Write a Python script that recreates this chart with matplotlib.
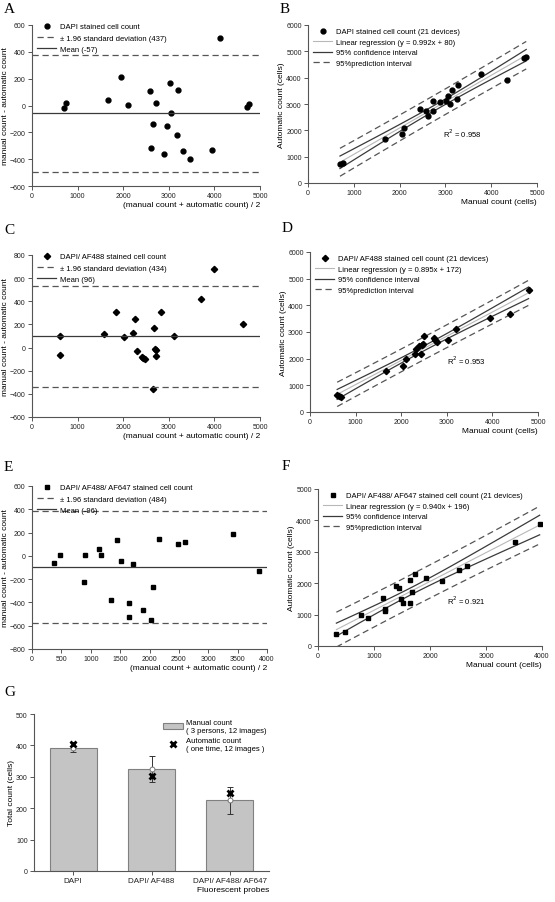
import numpy as np
import matplotlib
matplotlib.use("Agg")
import matplotlib.pyplot as plt
from matplotlib.lines import Line2D
from matplotlib.patches import Patch

plt.rcParams['font.family'] = ['Liberation Sans', 'DejaVu Sans']

# --- A: Bland-Altman, DAPI ---
a_x = [695, 740, 1670, 1950, 2095, 2585, 2715, 2643, 2606, 2899, 2958,
       3023, 3053, 3170, 3206, 3316, 3470, 3953, 4114, 4722, 4766]
a_y = [-20, 15, 40, 210, 5, 105, 22, -135, -319, -361, -150,
       168, -53, -220, 116, -339, -401, -332, 500, -9, 14]
a_mean, a_loa = -57, 437

# --- B: regression, DAPI ---
b_man = [698, 757, 1691, 2044, 2088, 2441, 2574, 2625, 2721, 2721, 2882,
         3015, 3059, 3103, 3147, 3250, 3272, 3779, 4346, 4706, 4765]
b_auto = [736, 749, 1662, 1865, 2107, 2792, 2741, 2551, 3122, 2741, 3058,
          3122, 3312, 2982, 3528, 3185, 3706, 4150, 3909, 4746, 4784]

# --- C: Bland-Altman, DAPI/AF488 ---
c_x = [608, 622, 1589, 1852, 2020, 2204, 2262, 2299, 2408, 2438, 2482,
       2672, 2694, 2730, 2730, 2657, 2833, 3119, 3697, 3990, 4634]
c_y = [100, -60, 120, 310, 95, 130, 245, -30, -78, -86, -101,
       170, -15, -25, -70, -355, 305, 100, 420, 680, 205]
c_mean, c_loa = 96, 434

# --- D: regression, DAPI/AF488 ---
d_man = [596, 633, 669, 1673, 2036, 2095, 2305, 2320, 2393, 2429, 2451,
         2473, 2509, 2727, 2742, 2793, 3018, 3207, 3949, 4385, 4793]
d_auto = [650, 600, 550, 1538, 1725, 1988, 2163, 2350, 2463, 2163, 2513,
          2563, 2863, 2775, 2713, 2625, 2713, 3113, 3538, 3688, 4588]

# --- E: Bland-Altman, DAPI/AF488/AF647 ---
e_x = [375, 472, 904, 893, 1143, 1177, 1348, 1450, 1507, 1650, 1650,
       1712, 1889, 2019, 2059, 2162, 2480, 2611, 3413, 3857]
e_y = [-63, 11, 6, -226, 63, 9, -377, 140, -46, -403, -523,
       -69, -469, -551, -269, 149, 106, 123, 189, -131]
e_mean, e_loa = -96, 484

# --- F: regression, DAPI/AF488/AF647 ---
f_man = [328, 478, 776, 901, 1152, 1188, 1188, 1385, 1451, 1481, 1516,
         1642, 1642, 1672, 1731, 1922, 2221, 2525, 2669, 3510, 3958]
f_auto = [383, 447, 1000, 883, 1521, 1181, 1117, 1904, 1840, 1511, 1372,
          1372, 2117, 1723, 2287, 2170, 2074, 2415, 2543, 3309, 3895]

# --- G: totals ---
probes = ['DAPI', 'DAPI/ AF488', 'DAPI/ AF488/ AF647']
manual_mean = [393, 325, 225]
manual_err = [15, 41, 43]
auto_count = [405, 302, 248]

LINE = '#3a3a3a'
REG = '#b8b8b8'
FS_TICK = 5
FS_LAB = 6
FS_LEG = 5.5


def style_axes(ax):
    for s in ['top', 'right']:
        ax.spines[s].set_visible(False)
    for s in ['left', 'bottom']:
        ax.spines[s].set_color('#555555')
        ax.spines[s].set_linewidth(0.8)
    ax.tick_params(labelsize=FS_TICK, length=3, width=0.7, colors='#555555',
                   labelcolor='#222222', direction='out', pad=1.5)


def bland_altman(ax, x, y, mean, loa, marker, ms, name, xmax, xstep, ymin, ymax):
    ax.plot(x, y, linestyle='none', marker=marker, color='black', ms=ms)
    ax.axhline(mean + loa, color='#555555', lw=0.9, ls=(0, (5, 3)))
    ax.axhline(mean - loa, color='#555555', lw=0.9, ls=(0, (5, 3)))
    ax.axhline(mean, color=LINE, lw=0.9)
    ax.set_xlim(0, xmax)
    ax.set_ylim(ymin, ymax)
    ax.set_xticks(np.arange(0, xmax + 1, xstep))
    ax.set_yticks(np.arange(ymin, ymax + 1, 200))
    ax.set_xlabel('(manual count + automatic count) / 2', fontsize=FS_LAB, loc='right', labelpad=1)
    ax.set_ylabel('manual count - automatic count', fontsize=FS_LAB, labelpad=0.5)
    sign = '-' if mean < 0 else ''
    handles = [
        Line2D([], [], ls='none', marker=marker, color='black', ms=ms),
        Line2D([], [], color='#555555', lw=0.9, ls=(0, (5, 3))),
        Line2D([], [], color=LINE, lw=0.9),
    ]
    labels = [name, '\u00b1 1.96 standard deviation (%d)' % loa,
              'Mean (%s%d)' % (sign, abs(mean))]
    ax.legend(handles, labels, loc='upper left', bbox_to_anchor=(0.0, 1.04), frameon=False,
              fontsize=FS_LEG, handlelength=2.6, handletextpad=0.5, labelspacing=0.5,
              borderaxespad=0.2)
    style_axes(ax)


def regression(ax, man, auto, marker, ms, name, eq, r2, r2_pos, xmax, ymax):
    x = np.array(man, dtype=float)
    y = np.array(auto, dtype=float)
    n = len(x)
    slope, icpt = np.polyfit(x, y, 1)
    resid = y - (icpt + slope * x)
    s = np.sqrt(np.sum(resid ** 2) / (n - 2))
    xm = x.mean()
    sxx = np.sum((x - xm) ** 2)
    t = 2.093
    xs = np.linspace(x.min(), x.max(), 100)
    fit = icpt + slope * xs
    ci = t * s * np.sqrt(1 / n + (xs - xm) ** 2 / sxx)
    pi = t * s * np.sqrt(1 + 1 / n + (xs - xm) ** 2 / sxx)
    ax.plot(xs, fit, color=REG, lw=0.8)
    ax.plot(xs, fit + ci, color=LINE, lw=0.9)
    ax.plot(xs, fit - ci, color=LINE, lw=0.9)
    ax.plot(xs, fit + pi, color='#555555', lw=0.9, ls=(0, (5, 3)))
    ax.plot(xs, fit - pi, color='#555555', lw=0.9, ls=(0, (5, 3)))
    ax.plot(x, y, linestyle='none', marker=marker, color='black', ms=ms)
    ax.set_xlim(0, xmax)
    ax.set_ylim(0, ymax)
    ax.set_xticks(np.arange(0, xmax + 1, 1000))
    ax.set_yticks(np.arange(0, ymax + 1, 1000))
    ax.set_xlabel('Manual count (cells)', fontsize=FS_LAB, loc='right', labelpad=1)
    ax.set_ylabel('Automatic count (cells)', fontsize=FS_LAB, labelpad=0.5)
    ax.text(r2_pos[0], r2_pos[1], 'R$^2$ = %s' % r2, fontsize=FS_LEG, va='center')
    handles = [
        Line2D([], [], ls='none', marker=marker, color='black', ms=ms),
        Line2D([], [], color=REG, lw=0.8),
        Line2D([], [], color=LINE, lw=0.9),
        Line2D([], [], color='#555555', lw=0.9, ls=(0, (5, 3))),
    ]
    labels = [name + ' (21 devices)', 'Linear regression (%s)' % eq,
              '95% confidence interval', '95%prediction interval']
    ax.legend(handles, labels, loc='upper left', bbox_to_anchor=(0.0, 1.01), frameon=False,
              fontsize=FS_LEG, handlelength=2.6, handletextpad=0.5, labelspacing=0.42,
              borderaxespad=0.2)
    style_axes(ax)


fig = plt.figure(figsize=(5.55, 9.03), dpi=100)
W, H = 555.0, 903.0


def add_ax(l, r, t, b):
    return fig.add_axes([l / W, 1 - b / H, (r - l) / W, (b - t) / H])


axA = add_ax(32, 260, 26, 187)
axB = add_ax(308, 537, 26, 184)
axC = add_ax(32, 260, 256, 418)
axD = add_ax(310, 538, 253, 413)
axE = add_ax(32, 267, 487, 650)
axF = add_ax(318, 542, 490, 647)
axG = add_ax(34, 269, 715, 872)

bland_altman(axA, a_x, a_y, a_mean, a_loa, 'o', 3.5, 'DAPI stained cell count',
             5000, 1000, -600, 600)
bland_altman(axC, c_x, c_y, c_mean, c_loa, 'D', 3.2, 'DAPI/ AF488 stained cell count',
             5000, 1000, -600, 800)
bland_altman(axE, e_x, e_y, e_mean, e_loa, 's', 3.3, 'DAPI/ AF488/ AF647 stained cell count',
             4000, 500, -800, 600)

regression(axB, b_man, b_auto, 'o', 3.5, 'DAPI stained cell count',
           'y = 0.992x + 80', '0.958', (2950, 1920), 5000, 6000)
regression(axD, d_man, d_auto, 'D', 3.2, 'DAPI/ AF488 stained cell count',
           'y = 0.895x + 172', '0.953', (3000, 1940), 5000, 6000)
regression(axF, f_man, f_auto, 's', 3.3, 'DAPI/ AF488/ AF647 stained cell count',
           'y = 0.940x + 196', '0.921', (2300, 1460), 4000, 5000)

# G: bar chart
pos = np.arange(len(probes))
axG.bar(pos, manual_mean, width=0.6, color='#c4c4c4', edgecolor='#808080', linewidth=0.8, zorder=2)
axG.errorbar(pos, manual_mean, yerr=manual_err, fmt='none', ecolor='#333333',
             elinewidth=0.7, capsize=2.5, capthick=0.7, zorder=3)
axG.plot(pos, manual_mean, ls='none', marker='o', ms=3.5, mfc='white', mec='#777777',
         mew=0.7, zorder=4)
axG.plot(pos, auto_count, ls='none', marker='x', ms=5, mew=2, color='black', zorder=5)
axG.set_xlim(-0.5, 2.5)
axG.set_ylim(0, 500)
axG.set_xticks(pos)
axG.set_xticklabels(probes)
axG.set_yticks(np.arange(0, 501, 100))
axG.set_xlabel('Fluorescent probes', fontsize=FS_LAB, loc='right', labelpad=1)
axG.set_ylabel('Total count (cells)', fontsize=FS_LAB, labelpad=0.5)
style_axes(axG)
axG.tick_params(axis='x', labelsize=5.8)
g_handles = [Patch(facecolor='#c4c4c4', edgecolor='#808080', linewidth=0.8),
             Line2D([], [], ls='none', marker='x', ms=5, mew=2, color='black')]
g_labels = ['Manual count\n( 3 persons, 12 images)', 'Automatic count\n( one time, 12 images )']
axG.legend(g_handles, g_labels, loc='upper right', bbox_to_anchor=(1.01, 1.0), frameon=False,
           fontsize=FS_LEG, handlelength=2.6, handletextpad=0.4, labelspacing=0.4,
           borderaxespad=0.2)

# panel letters
for letter, xp, yp in [('A', 4, 3), ('B', 280, 3), ('C', 4, 224), ('D', 282, 222),
                       ('E', 4, 461), ('F', 282, 460), ('G', 4, 686)]:
    fig.text(xp / W, 1 - yp / H, letter, fontsize=11, va='top', ha='left',
             family=['Liberation Serif', 'DejaVu Serif'])

plt.savefig('out.png', dpi=100)
